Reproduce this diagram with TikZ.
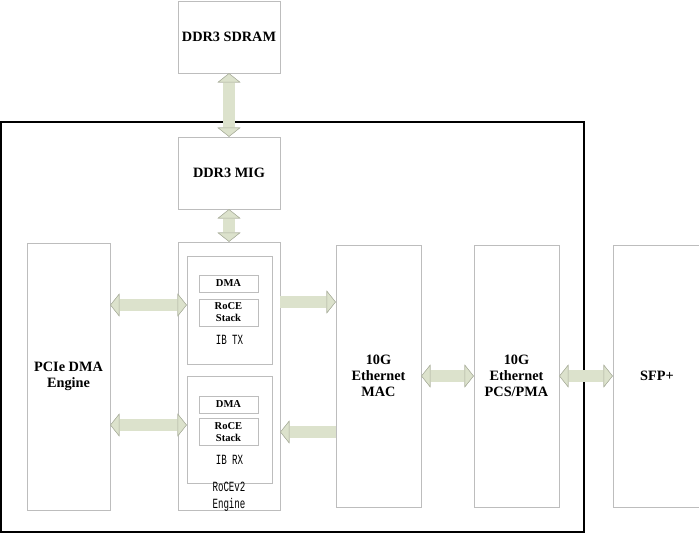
\documentclass[tikz,border=0pt]{standalone}
\usepackage{fontspec}
\setmainfont{Liberation Serif}
\newfontfamily\narrowmono[FakeStretch=0.65]{Liberation Mono}
\usepackage{xcolor}
\usetikzlibrary{arrows.meta, positioning, calc}
\definecolor{afill}{HTML}{DCE2CC}
\definecolor{agray}{HTML}{A9AE9C}
\definecolor{cbox}{HTML}{BDBDBD}

\begin{document}
\begin{tikzpicture}[
  x=0.3mm, y=-0.3mm,
  block/.style={draw=cbox, line width=0.5pt, anchor=center, align=center,
                font=\fontsize{12.2}{13.8}\selectfont\bfseries},
  sub/.style={draw=cbox, line width=0.5pt, anchor=center, align=center,
              minimum width=17.7mm, font=\fontsize{9}{10.2}\selectfont\bfseries},
  tag/.style={anchor=center, align=center, font=\narrowmono\fontsize{12}{14.5}\selectfont},
  >={Triangle[width=6.8mm, length=2.7mm, line width=0.4pt, color=agray, fill=afill]},
  bus/.style={draw=afill, line width=3.5mm,
              preaction={draw=agray, line width=3.5mm+0.7pt}},
]
\useasboundingbox (0,0) rectangle (699,534);
% FPGA border
\draw[line width=1.2pt] (1,122) rectangle (584,532);
% Blocks
\node[block, minimum width=30.6mm, minimum height=21.6mm] (sdram) at (229,37) {DDR3 SDRAM};
\node[block, minimum width=30.6mm, minimum height=21.6mm] (mig) at (229,173) {DDR3 MIG};
\node[block, minimum width=24.9mm, minimum height=80.1mm] (pcie) at (68.5,376.5) {PCIe DMA\\Engine};
\node[block, minimum width=30.6mm, minimum height=80.4mm] (roce) at (229,376) {};
\node[block, minimum width=25.5mm, minimum height=78.6mm] (mac) at (378.5,376) {10G\\Ethernet\\MAC};
\node[block, minimum width=25.5mm, minimum height=78.6mm] (pcs) at (516.5,376) {10G\\Ethernet\\PCS/PMA};
\node[block, minimum width=26.4mm, minimum height=78.6mm] (sfp) at (657,376) {SFP+};
% RoCEv2 engine inside
\node[block, minimum width=25.5mm, minimum height=32.4mm] (ibtx) at (229.5,310) {};
\node[sub, minimum height=5.1mm] (txdma) at (228.5,283.5) {DMA};
\node[sub, minimum height=8.1mm] (txstack) at (228.5,312.5) {RoCE\\Stack};
\node[tag] (txname) at (229.5,340) {IB TX};
\node[block, minimum width=25.5mm, minimum height=32.1mm] (ibrx) at (229.5,429.5) {};
\node[sub, minimum height=5.1mm] (rxdma) at (228.5,404.5) {DMA};
\node[sub, minimum height=8.1mm] (rxstack) at (228.5,432) {RoCE\\Stack};
\node[tag] (rxname) at (229.5,460) {IB RX};
\node[tag] (engname) at (229,496.5) {RoCEv2\\Engine};
% Rows for the horizontal buses
\coordinate (rowa) at (0,305);
\coordinate (rowb) at (0,425);
\coordinate (rowc) at (0,302);
\coordinate (rowd) at (0,432);
% Buses
\draw[bus, <->] (sdram.south) -- (mig.north);
\draw[bus, <->] (mig.south) -- (roce.north);
\draw[bus, <->] (pcie.east |- rowa) -- (ibtx.west |- rowa);
\draw[bus, <->] (pcie.east |- rowb) -- (ibrx.west |- rowb);
\draw[bus, ->] (roce.east |- rowc) -- (mac.west |- rowc);
\draw[bus, ->] (mac.west |- rowd) -- (roce.east |- rowd);
\draw[bus, <->] (mac.east) -- (pcs.west);
\draw[bus, <->] (pcs.east) -- (sfp.west);
\end{tikzpicture}
\end{document}
